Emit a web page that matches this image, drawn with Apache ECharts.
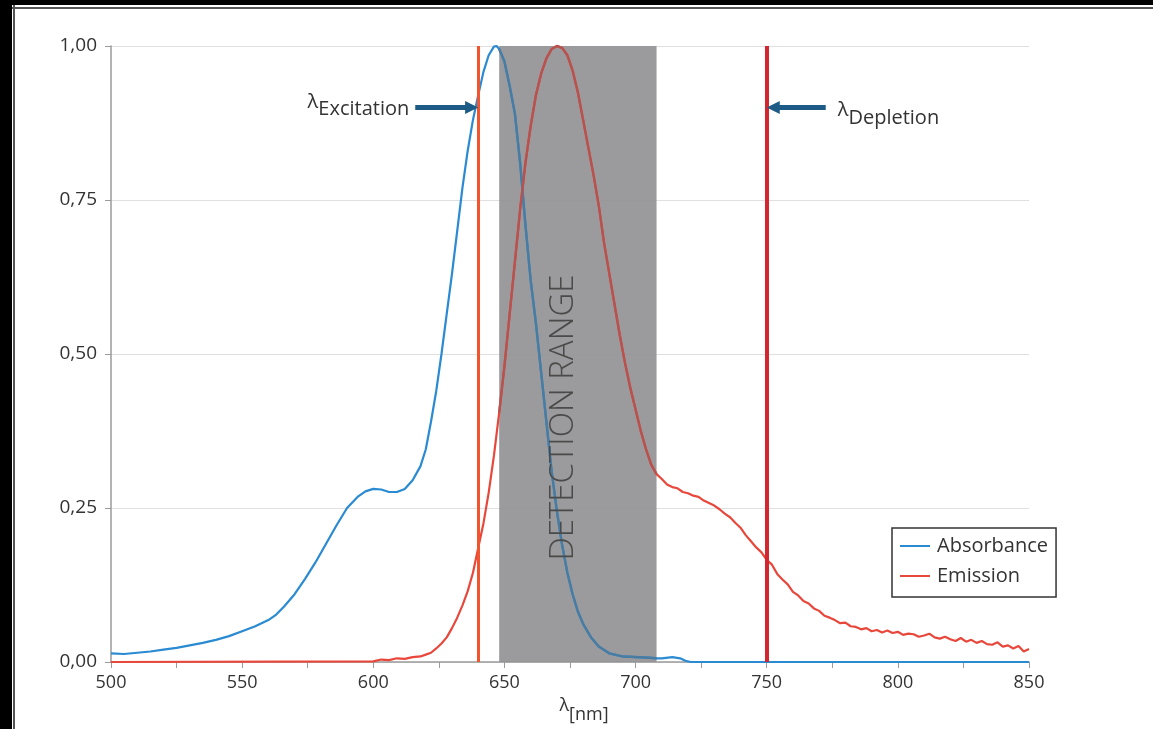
<!DOCTYPE html>
<html style="height: 100%">
<head>
    <meta charset="utf-8">
    <title>Absorbance / Emission</title>
    <script src="https://cdn.jsdelivr.net/npm/echarts@6/dist/echarts.min.js"></script>
</head>
<body style="height: 100%; margin: 0; background: #fff">
<div id="container" style="width: 1153px; height: 729px"></div>
<script type="text/javascript">
    // absorbance spectrum (nm / normalised)
    var absNm  = [500, 505, 510, 515, 520, 525, 530, 535, 540, 545, 550, 555, 560, 563, 566, 570, 574, 578, 582, 586,
                  590, 594, 597, 600, 603, 606, 609, 612, 615, 618, 620, 622, 624, 626, 628, 630, 632, 634, 636, 638,
                  640, 642, 644, 646, 647, 648, 650, 652, 654, 656, 658, 660, 662, 664, 666, 668, 670, 672, 674, 676,
                  678, 680, 683, 686, 690, 695, 700, 705, 708, 710, 714, 717, 719, 721, 850];
    var absVal = [0.014, 0.013, 0.015, 0.017, 0.020, 0.023, 0.027, 0.031, 0.036, 0.042, 0.050, 0.058, 0.068, 0.077, 0.090, 0.110, 0.135, 0.162, 0.192, 0.222,
                  0.250, 0.268, 0.277, 0.281, 0.280, 0.276, 0.276, 0.281, 0.295, 0.318, 0.345, 0.390, 0.440, 0.500, 0.565, 0.630, 0.700, 0.770, 0.830, 0.880,
                  0.920, 0.958, 0.985, 0.999, 1.000, 0.995, 0.975, 0.935, 0.890, 0.810, 0.710, 0.620, 0.550, 0.470, 0.390, 0.310, 0.245, 0.190, 0.145, 0.110,
                  0.082, 0.062, 0.040, 0.025, 0.014, 0.009, 0.008, 0.007, 0.006, 0.006, 0.008, 0.006, 0.002, 0.000, 0.000];

    // emission spectrum (nm / normalised)
    var emiNm  = [500, 600, 603, 606, 609, 612, 615, 618, 620, 622, 624, 626, 628, 630, 632, 634, 636, 638, 640, 642,
                  644, 646, 648, 650, 652, 654, 656, 658, 660, 662, 664, 666, 668, 670, 672, 674, 676, 678, 680, 682,
                  684, 686, 688, 690, 692, 694, 696, 698, 700, 702, 704, 706, 708, 710, 712, 714, 716, 718, 720, 722,
                  724, 726, 728, 730, 732, 734, 736, 738, 740, 742, 744, 746, 748, 750, 752, 754, 756, 758, 760, 762,
                  764, 766, 768, 770, 772, 774, 776, 778, 780, 782, 784, 786, 788, 790, 792, 794, 796, 798, 800, 802,
                  804, 806, 808, 810, 812, 814, 816, 818, 820, 822, 824, 826, 828, 830, 832, 834, 836, 838, 840, 842,
                  844, 846, 848, 850];
    var emiVal = [0.000, 0.001, 0.004, 0.003, 0.006, 0.005, 0.008, 0.009, 0.012, 0.015, 0.022, 0.030, 0.040, 0.055, 0.072, 0.092, 0.115, 0.145, 0.185, 0.225,
                  0.275, 0.335, 0.405, 0.480, 0.565, 0.650, 0.735, 0.810, 0.870, 0.920, 0.955, 0.980, 0.995, 1.000, 0.997, 0.985, 0.960, 0.925, 0.880, 0.835,
                  0.790, 0.740, 0.680, 0.630, 0.580, 0.530, 0.485, 0.445, 0.410, 0.375, 0.345, 0.320, 0.305, 0.297, 0.288, 0.284, 0.282, 0.276, 0.274, 0.270,
                  0.268, 0.262, 0.258, 0.254, 0.248, 0.241, 0.235, 0.226, 0.218, 0.206, 0.196, 0.186, 0.178, 0.166, 0.158, 0.143, 0.134, 0.126, 0.114, 0.108,
                  0.099, 0.095, 0.087, 0.083, 0.075, 0.072, 0.068, 0.063, 0.064, 0.058, 0.057, 0.053, 0.055, 0.050, 0.052, 0.048, 0.051, 0.047, 0.049, 0.044,
                  0.046, 0.045, 0.041, 0.043, 0.046, 0.040, 0.038, 0.041, 0.037, 0.034, 0.039, 0.033, 0.036, 0.031, 0.034, 0.029, 0.028, 0.032, 0.025, 0.027,
                  0.022, 0.026, 0.017, 0.021];

    // annotations
    var excitationNm = 640;
    var depletionNm = 750;
    var detectionRange = [648, 708];
    var detectionLabelAt = [672.5, 0.397];
    var excArrow = [[616, 0.9], [637.5, 0.9]];
    var depArrow = [[772.5, 0.9], [752.5, 0.9]];

    var xTicks = {min: 500, max: 850, step: 50};
    var yTicks = {min: 0, max: 1, step: 0.25};

    var blue = '#2a8ad2', blueDim = '#4a7ca2';
    var red = '#e8473b', redDim = '#b65350';
    var txt = '#333';
    var font = 'Open Sans';

    function pairs(xs, ys, lo, hi) {
        var out = [];
        for (var i = 0; i < xs.length; i++) {
            if (lo != null && (xs[i] < lo || xs[i] > hi)) continue;
            out.push([xs[i], ys[i]]);
        }
        return out;
    }

    // λ with a lowered subscript
    function lambdaRich(size, lPad, sPad) {
        return {
            l: {fontSize: size, color: txt, fontFamily: font, padding: lPad},
            s: {fontSize: size, color: txt, fontFamily: font, padding: sPad}
        };
    }

    var dom = document.getElementById("container");
    var myChart = echarts.init(dom);

    var option = {
        animation: false,
        backgroundColor: '#fff',
        textStyle: {fontFamily: font},
        grid: {left: 111, right: 124, top: 46, bottom: 56},
        graphic: [
            {type: 'rect', left: 0, top: 0, shape: {width: 1153, height: 5}, style: {fill: '#000'}, z: 100},
            {type: 'rect', left: 0, top: 0, shape: {width: 12, height: 729}, style: {fill: '#000'}, z: 100},
            {type: 'line', shape: {x1: 12, y1: 8, x2: 1153, y2: 8}, style: {stroke: '#555', lineWidth: 2}, z: 100},
            {type: 'line', shape: {x1: 14, y1: 5, x2: 14, y2: 729}, style: {stroke: '#555', lineWidth: 2}, z: 100}
        ],
        legend: {
            data: ['Absorbance', 'Emission'],
            orient: 'vertical',
            left: 892,
            top: 528,
            padding: [8, 8, 11, 8],
            icon: 'rect',
            itemWidth: 30,
            itemHeight: 2,
            itemGap: 10,
            borderColor: '#333',
            borderWidth: 1.5,
            backgroundColor: '#fff',
            textStyle: {fontSize: 20, color: txt, fontFamily: font, padding: [0, 0, 0, 2]}
        },
        xAxis: {
            type: 'value',
            min: xTicks.min, max: xTicks.max, interval: xTicks.step,
            name: '{l|λ}{s|[nm]}',
            nameLocation: 'middle',
            nameGap: 30,
            nameTextStyle: {
                padding: [0, 0, 0, 28],
                rich: lambdaRich(18, [0, 0, 4, 0], [14, 0, 0, 0])
            },
            axisLine: {lineStyle: {color: '#9a9a9a', width: 1.5}},
            axisTick: {length: 6, lineStyle: {color: '#9a9a9a'}},
            minorTick: {show: true, splitNumber: 2, length: 6, lineStyle: {color: '#9a9a9a'}},
            splitLine: {show: false},
            axisLabel: {fontSize: 18, color: txt, margin: 12, fontFamily: font}
        },
        yAxis: {
            type: 'value',
            min: yTicks.min, max: yTicks.max, interval: yTicks.step,
            axisLine: {show: true, lineStyle: {color: '#9a9a9a', width: 1.5}},
            axisTick: {show: true, length: 6, lineStyle: {color: '#9a9a9a'}},
            splitLine: {lineStyle: {color: '#e0e0e0', width: 1.2}},
            axisLabel: {
                fontSize: 19, color: txt, margin: 14, fontFamily: font,
                formatter: function (v) { return v.toFixed(2).replace('.', ','); }
            }
        },
        series: [
            {
                // grey detection band, under the curves
                name: 'band', type: 'line', data: [], z: 1, silent: true,
                markArea: {
                    silent: true,
                    itemStyle: {color: 'rgba(146,147,149,0.92)'},
                    data: [[{xAxis: detectionRange[0], yAxis: 0}, {xAxis: detectionRange[1], yAxis: 1}]]
                },
                markPoint: {
                    silent: true,
                    symbol: 'rect', symbolSize: 1,
                    itemStyle: {color: 'rgba(0,0,0,0)'},
                    label: {show: true, position: 'inside', rotate: 90, formatter: 'DETECTION RANGE',
                            fontSize: 33, fontWeight: 300, color: '#4a4a4a', fontFamily: font},
                    data: [{coord: detectionLabelAt}]
                }
            },
            {
                name: 'Absorbance', type: 'line', data: pairs(absNm, absVal),
                symbol: 'none', clip: false, z: 3, color: blue,
                lineStyle: {width: 2.2}
            },
            {
                name: 'Emission', type: 'line', data: pairs(emiNm, emiVal),
                symbol: 'none', clip: false, z: 3, color: red,
                lineStyle: {width: 2.2}
            },
            // the same curves seen through the grey band look duller
            {
                name: 'Absorbance in range', type: 'line',
                data: pairs(absNm, absVal, detectionRange[0], detectionRange[1]),
                symbol: 'none', clip: false, z: 4, silent: true, color: blueDim,
                lineStyle: {width: 2.4}
            },
            {
                name: 'Emission in range', type: 'line',
                data: pairs(emiNm, emiVal, detectionRange[0], detectionRange[1]),
                symbol: 'none', clip: false, z: 4, silent: true, color: redDim,
                lineStyle: {width: 2.4}
            },
            {
                name: 'marks', type: 'line', data: [], z: 5, silent: true,
                markLine: {
                    silent: true,
                    symbol: ['none', 'none'],
                    label: {show: false},
                    data: [
                        [{coord: [excitationNm, 0], lineStyle: {color: '#f2542d', width: 3, type: 'solid'}},
                         {coord: [excitationNm, 1]}],
                        [{coord: [depletionNm, 0], lineStyle: {color: '#d3262d', width: 4, type: 'solid'}},
                         {coord: [depletionNm, 1]}],
                        [{coord: excArrow[0], symbol: 'none',
                          lineStyle: {color: '#1c5b85', width: 5, type: 'solid'},
                          label: {show: true, position: 'start', distance: 6,
                                  formatter: '{l|λ}{s|Excitation}',
                                  rich: lambdaRich(20, [0, 0, 11, 0], [3, 0, 0, 0])}},
                         {coord: excArrow[1], symbol: 'triangle', symbolSize: 13}],
                        [{coord: depArrow[0], symbol: 'none',
                          lineStyle: {color: '#1c5b85', width: 5, type: 'solid'},
                          label: {show: true, position: 'start', distance: 12,
                                  formatter: '{l|λ}{s|Depletion}',
                                  rich: lambdaRich(20, [5, 0, 0, 0], [22, 0, 0, 0])}},
                         {coord: depArrow[1], symbol: 'triangle', symbolSize: 13}]
                    ]
                }
            }
        ]
    };

    if (option && typeof option === "object") {
        myChart.setOption(option, true);
    }
</script>
</body>
</html>
